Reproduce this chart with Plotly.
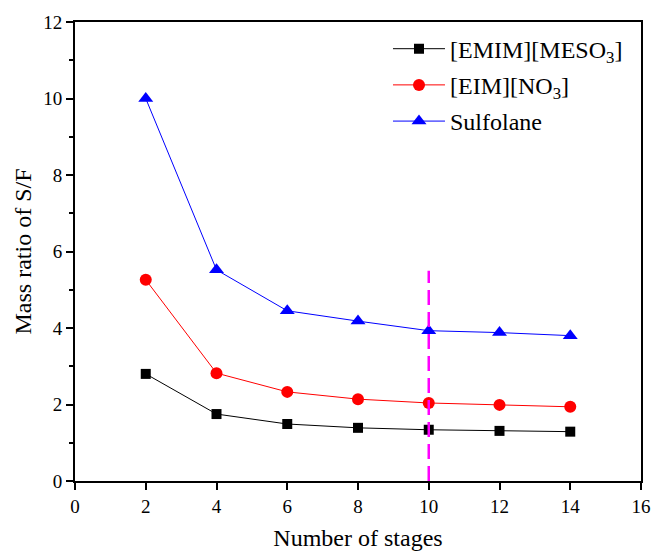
import plotly.graph_objects as go

stages = [2, 4, 6, 8, 10, 12, 14]
emim_meso3 = [2.80, 1.75, 1.49, 1.39, 1.34, 1.31, 1.29]
eim_no3 = [5.26, 2.82, 2.33, 2.14, 2.04, 1.99, 1.94]
sulfolane = [10.0, 5.52, 4.45, 4.18, 3.93, 3.88, 3.80]
marker_x = [10, 10]
marker_y = [0, 5.5]

font = "Liberation Serif"

fig = go.Figure()
fig.add_trace(go.Scatter(x=stages, y=emim_meso3, mode="lines+markers",
                         name="[EMIM][MESO<sub>3</sub>]", legendgroup="a",
                         line=dict(color="black", width=1),
                         marker=dict(symbol="square", size=10, color="black")))
fig.add_trace(go.Scatter(x=stages, y=eim_no3, mode="lines+markers",
                         name="[EIM][NO<sub>3</sub>]", legendgroup="b",
                         line=dict(color="red", width=1),
                         marker=dict(symbol="circle", size=12, color="red")))
fig.add_trace(go.Scatter(x=stages, y=sulfolane, mode="lines+markers",
                         name="Sulfolane", legendgroup="c",
                         line=dict(color="blue", width=1),
                         marker=dict(symbol="triangle-up", size=13, color="blue")))
fig.add_trace(go.Scatter(x=marker_x, y=marker_y, mode="lines", showlegend=False,
                         line=dict(color="magenta", width=2.5, dash="15px,7px")))

fig.update_layout(
    width=657, height=551,
    margin=dict(l=75, r=16, t=22, b=70),
    plot_bgcolor="white", paper_bgcolor="white",
    font=dict(family=font, size=19, color="black"),
    legend=dict(x=0.553, y=0.99, xanchor="left", yanchor="top",
                bgcolor="rgba(255,255,255,0)", font=dict(size=24),
                itemwidth=52, tracegroupgap=2, traceorder="grouped"),
    xaxis=dict(range=[0, 16], dtick=2, showline=True, linecolor="black", linewidth=2,
               mirror=True, ticks="outside", ticklen=7, tickwidth=1.5, tickcolor="black",
               showgrid=False, zeroline=False, automargin=False,
               title=dict(text="Number of stages", font=dict(size=24), standoff=23)),
    yaxis=dict(range=[0, 12], dtick=2, showline=True, linecolor="black", linewidth=2,
               mirror=True, ticks="outside", ticklen=7, tickwidth=1.5, tickcolor="black",
               showgrid=False, zeroline=False, automargin=False,
               minor=dict(dtick=1, ticks="outside", ticklen=4, tickwidth=1.5, tickcolor="black"),
               title=dict(text="Mass ratio of S/F", font=dict(size=24), standoff=5)),
)

fig.write_html("out.html")
